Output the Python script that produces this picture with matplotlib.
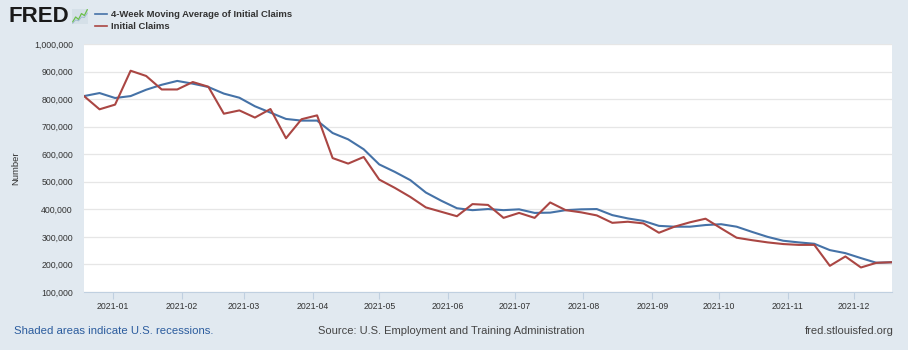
"""FRED-style initial claims chart, 2021."""

import matplotlib

matplotlib.use("Agg")
import matplotlib.pyplot as plt
import matplotlib.dates as mdates
from matplotlib.lines import Line2D
from matplotlib.ticker import FuncFormatter
import pandas as pd

# weekly observations (week ending Saturday)
week_ending = [
    "2020-12-19", "2020-12-26", "2021-01-02", "2021-01-09", "2021-01-16",
    "2021-01-23", "2021-01-30", "2021-02-06", "2021-02-13", "2021-02-20",
    "2021-02-27", "2021-03-06", "2021-03-13", "2021-03-20", "2021-03-27",
    "2021-04-03", "2021-04-10", "2021-04-17", "2021-04-24", "2021-05-01",
    "2021-05-08", "2021-05-15", "2021-05-22", "2021-05-29", "2021-06-05",
    "2021-06-12", "2021-06-19", "2021-06-26", "2021-07-03", "2021-07-10",
    "2021-07-17", "2021-07-24", "2021-07-31", "2021-08-07", "2021-08-14",
    "2021-08-21", "2021-08-28", "2021-09-04", "2021-09-11", "2021-09-18",
    "2021-09-25", "2021-10-02", "2021-10-09", "2021-10-16", "2021-10-23",
    "2021-10-30", "2021-11-06", "2021-11-13", "2021-11-20", "2021-11-27",
    "2021-12-04", "2021-12-11", "2021-12-18",
]

moving_avg_4wk = [
    811000, 822000, 804000, 811000, 834000, 852000, 866000, 856000, 844000,
    820000, 805000, 774000, 751000, 728000, 722000, 722000, 677000, 654000,
    618000, 563000, 536000, 506000, 461000, 431000, 404000, 397000, 401000,
    397000, 400000, 387000, 388000, 397000, 400000, 401000, 379000, 367000,
    358000, 340000, 337000, 337000, 343000, 346000, 337000, 318000, 300000,
    286000, 280000, 275000, 252000, 241000, 223000, 206000, 208000,
]

initial_claims = [
    811000, 763000, 780000, 903000, 884000, 835000, 835000, 862000, 845000,
    747000, 759000, 733000, 764000, 658000, 727000, 741000, 586000, 566000,
    590000, 508000, 478000, 445000, 407000, 391000, 375000, 419000, 416000,
    369000, 387000, 369000, 425000, 397000, 389000, 378000, 351000, 355000,
    349000, 315000, 337000, 353000, 366000, 331000, 297000, 288000, 280000,
    274000, 271000, 271000, 195000, 229000, 189000, 206000, 208000,
]

series_labels = ["4-Week Moving Average of Initial Claims", "Initial Claims"]

BG = "#e1e9f0"
BLUE = "#4572a7"
RED = "#aa4643"
FONT = "Liberation Sans"

plt.rcParams["font.family"] = [FONT, "DejaVu Sans"]

dates = pd.to_datetime(week_ending)

fig = plt.figure(figsize=(9.08, 3.5), dpi=100, facecolor=BG)
ax = fig.add_axes([84 / 908, 1 - 292 / 350, 808 / 908, 248 / 350])
ax.set_facecolor("white")

ax.plot(dates, moving_avg_4wk, color=BLUE, lw=1.5, zorder=3)
ax.plot(dates, initial_claims, color=RED, lw=1.5, zorder=3)

ax.set_xlim(dates[0], dates[-1])
ax.set_ylim(100000, 1000000)
ax.set_yticks(range(100000, 1000001, 100000))
ax.yaxis.set_major_formatter(FuncFormatter(lambda v, _: f"{v:,.0f}"))
ax.xaxis.set_major_locator(mdates.MonthLocator())
ax.xaxis.set_major_formatter(mdates.DateFormatter("%Y-%m"))

ax.grid(axis="y", color="#e6e6e6", lw=0.9)
ax.set_axisbelow(True)
for side in ("top", "right", "left"):
    ax.spines[side].set_visible(False)
ax.spines["bottom"].set_color("#c0d0e0")
ax.tick_params(axis="y", length=0, pad=8, labelsize=6.3, labelcolor="#333333")
ax.tick_params(axis="x", length=5, color="#c0d0e0", pad=2, labelsize=6.3,
               labelcolor="#333333")
ax.set_ylabel("Number", fontsize=6.8, color="#333333")
ax.yaxis.set_label_coords(-64 / 808, 0.5)

# header: logo + legend
fig.text(8 / 908, 1 - 16 / 350, "FRED", fontsize=16, fontweight="heavy",
         color="#1a1a1a", va="center", ha="left")
icon = fig.add_axes([72 / 908, 1 - 24 / 350, 16 / 908, 15 / 350])
icon.set_facecolor("#d5e0e8")
icon.plot([0, 1, 2, 3, 4, 5], [0.5, 1.5, 1.0, 2.2, 1.8, 3.0], color="#6bbf4a", lw=0.9)
icon.plot([0, 1, 2, 3, 4, 5], [0.2, 0.9, 0.7, 1.5, 1.4, 2.3], color="#9ab6cc", lw=0.6)
icon.set_xticks([])
icon.set_yticks([])
for s in icon.spines.values():
    s.set_visible(False)

handles = [Line2D([], [], color=BLUE, lw=1.2), Line2D([], [], color=RED, lw=1.2)]
fig.legend(handles, series_labels, loc="upper left",
           bbox_to_anchor=(95 / 908, 1 - 10 / 350), frameon=False,
           handlelength=1.3, handletextpad=0.4, labelspacing=0.3,
           borderpad=0, borderaxespad=0,
           prop={"family": FONT, "weight": "bold", "size": 6.8})
for t in fig.legends[0].get_texts():
    t.set_color("#333333")

# footer
fig.text(14 / 908, 1 - 331 / 350, "Shaded areas indicate U.S. recessions.",
         fontsize=8.2, color="#2b5c9e", va="center")
fig.text(318 / 908, 1 - 331 / 350, "Source: U.S. Employment and Training Administration",
         fontsize=8, color="#444444", va="center")
fig.text(894 / 908, 1 - 331 / 350, "fred.stlouisfed.org",
         fontsize=8, color="#444444", va="center", ha="right")

fig.savefig("out.png", dpi=100, facecolor=BG)
plt.close(fig)
